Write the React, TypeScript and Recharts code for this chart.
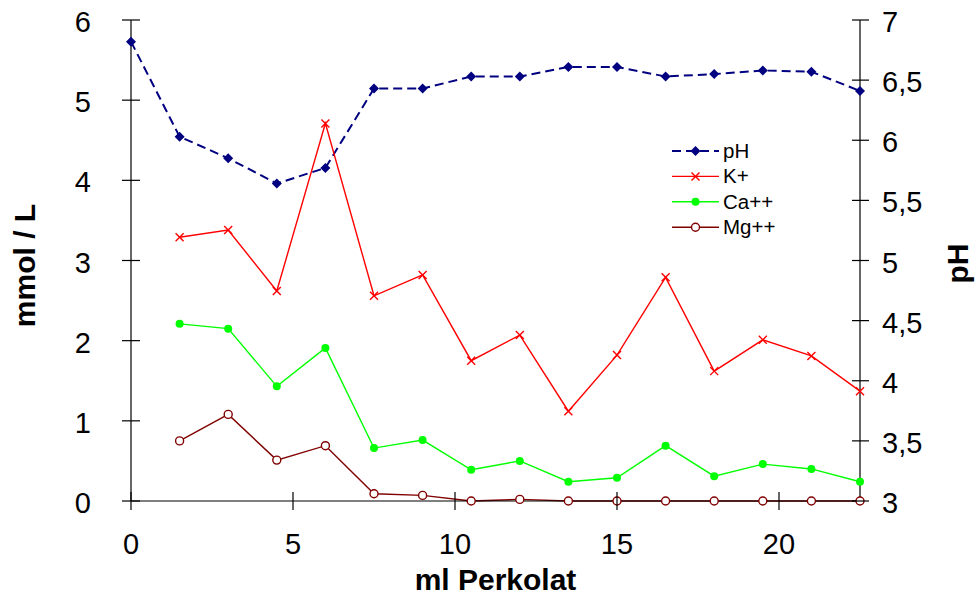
import { LineChart, Line, XAxis, YAxis, Label } from 'recharts'

const xValues = [0, 1.5, 3, 4.5, 6, 7.5, 9, 10.5, 12, 13.5, 15, 16.5, 18, 19.5, 21, 22.5]
const phValues = [6.82, 6.03, 5.85, 5.64, 5.77, 6.43, 6.43, 6.53, 6.53, 6.61, 6.61, 6.53, 6.55, 6.58, 6.57, 6.41]
const kValues = [null, 3.29, 3.38, 2.62, 4.71, 2.56, 2.82, 1.75, 2.07, 1.12, 1.82, 2.79, 1.62, 2.01, 1.81, 1.37]
const caValues = [null, 2.21, 2.15, 1.43, 1.91, 0.66, 0.76, 0.39, 0.5, 0.24, 0.29, 0.69, 0.31, 0.46, 0.4, 0.24]
const mgValues = [null, 0.75, 1.08, 0.51, 0.69, 0.09, 0.07, 0, 0.02, 0, 0, 0, 0, 0, 0, 0]

const xTicks = [0, 5, 10, 15, 20]
const leftTicks = [0, 1, 2, 3, 4, 5, 6]
const rightTicks = [3, 3.5, 4, 4.5, 5, 5.5, 6, 6.5, 7]

const seriesNames = ['pH', 'K+', 'Ca++', 'Mg++']

const NAVY = '#000080'
const RED = '#ff0000'
const GREEN = '#00ff00'
const MAROON = '#800000'
const FONT = '"Liberation Sans", Arial, sans-serif'
const TICK_SIZE = 29
const TITLE_SIZE = 30

const data = xValues.map((x, i) => ({
  x,
  ph: phValues[i],
  k: kValues[i],
  ca: caValues[i],
  mg: mgValues[i],
}))

// marker shapes
const diamond = (cx: number, cy: number, key?: any) => (
  <polygon key={key} points={`${cx},${cy - 5} ${cx + 5},${cy} ${cx},${cy + 5} ${cx - 5},${cy}`} fill={NAVY} />
)
const cross = (cx: number, cy: number, key?: any) => (
  <g key={key}>
    <line x1={cx - 4} y1={cy - 4} x2={cx + 4} y2={cy + 4} stroke={RED} strokeWidth={1.4} />
    <line x1={cx - 4} y1={cy + 4} x2={cx + 4} y2={cy - 4} stroke={RED} strokeWidth={1.4} />
  </g>
)
const dotFilled = (cx: number, cy: number, key?: any) => <circle key={key} cx={cx} cy={cy} r={4} fill={GREEN} />
const dotHollow = (cx: number, cy: number, key?: any) => (
  <circle key={key} cx={cx} cy={cy} r={4} fill="#fff" stroke={MAROON} strokeWidth={1.4} />
)

const makeDot = (draw: (cx: number, cy: number, key?: any) => any) => (props: any) => {
  const { cx, cy, value, index } = props
  if (value == null || cy == null || isNaN(cy)) return <g key={`e-${index}`} />
  return draw(cx, cy, `d-${index}`)
}

const LeftTick = (props: any) => {
  const { x, y, payload } = props
  return (
    <g>
      <line x1={x - 9} x2={x + 9} y1={y} y2={y} stroke="#000" strokeWidth={1.2} />
      <text x={x - 40} y={y + 12} textAnchor="end" fontSize={TICK_SIZE} fill="#000" fontFamily={FONT}>
        {payload.value}
      </text>
    </g>
  )
}

const RightTick = (props: any) => {
  const { x, y, payload } = props
  return (
    <g>
      <line x1={x - 8} x2={x + 9} y1={y} y2={y} stroke="#000" strokeWidth={1.2} />
      <text x={x + 22} y={y + 12} textAnchor="start" fontSize={TICK_SIZE} fill="#000" fontFamily={FONT}>
        {String(payload.value).replace('.', ',')}
      </text>
    </g>
  )
}

const BottomTick = (props: any) => {
  const { x, y, payload } = props
  return (
    <g>
      <line x1={x} x2={x} y1={y - 9} y2={y + 9} stroke="#000" strokeWidth={1.2} />
      <text x={x} y={y + 53} textAnchor="middle" fontSize={TICK_SIZE} fill="#000" fontFamily={FONT}>
        {payload.value}
      </text>
    </g>
  )
}

const legendMarkers = [
  { color: NAVY, dash: '9 5', draw: diamond },
  { color: RED, dash: undefined, draw: cross },
  { color: GREEN, dash: undefined, draw: dotFilled },
  { color: MAROON, dash: undefined, draw: dotHollow },
]

export default function App() {
  return (
    <div style={{ position: 'absolute', left: 0, top: 0, width: 978, height: 596, background: '#fff' }}>
      <LineChart
        width={978}
        height={596}
        data={data}
        margin={{ top: 20, right: 0, bottom: 0, left: 0 }}
        style={{ fontFamily: FONT }}
      >
        <XAxis
          dataKey="x"
          type="number"
          domain={[0, 22.5]}
          ticks={xTicks}
          interval={0}
          height={95}
          tickSize={0}
          tickMargin={0}
          tick={<BottomTick />}
          axisLine={{ stroke: '#000', strokeWidth: 1.2 }}
          tickLine={false}
        >
          <Label
            content={({ viewBox }: any) => (
              <text
                x={viewBox.x + viewBox.width / 2}
                y={viewBox.y + 89}
                textAnchor="middle"
                fontSize={TITLE_SIZE}
                fontWeight="bold"
                fill="#000"
                fontFamily={FONT}
              >
                ml Perkolat
              </text>
            )}
          />
        </XAxis>
        <YAxis
          yAxisId="left"
          domain={[0, 6]}
          ticks={leftTicks}
          interval={0}
          width={131}
          tickSize={0}
          tickMargin={0}
          tick={<LeftTick />}
          axisLine={{ stroke: '#000', strokeWidth: 1.2 }}
          tickLine={false}
        >
          <Label
            content={({ viewBox }: any) => {
              const cx = viewBox.x + 35
              const cy = viewBox.y + viewBox.height / 2 + 5
              return (
                <text
                  x={cx}
                  y={cy}
                  transform={`rotate(-90, ${cx}, ${cy})`}
                  textAnchor="middle"
                  fontSize={TITLE_SIZE}
                  fontWeight="bold"
                  fill="#000"
                  fontFamily={FONT}
                >
                  mmol / L
                </text>
              )
            }}
          />
        </YAxis>
        <YAxis
          yAxisId="right"
          orientation="right"
          domain={[3, 7]}
          ticks={rightTicks}
          interval={0}
          width={118}
          tickSize={0}
          tickMargin={0}
          tick={<RightTick />}
          axisLine={{ stroke: '#000', strokeWidth: 1.2 }}
          tickLine={false}
        >
          <Label
            content={({ viewBox }: any) => {
              const cx = viewBox.x + 108
              const cy = viewBox.y + viewBox.height / 2 + 3
              return (
                <text
                  x={cx}
                  y={cy}
                  transform={`rotate(-90, ${cx}, ${cy})`}
                  textAnchor="middle"
                  fontSize={TITLE_SIZE}
                  fontWeight="bold"
                  fill="#000"
                  fontFamily={FONT}
                >
                  pH
                </text>
              )
            }}
          />
        </YAxis>
        <Line
          yAxisId="right"
          dataKey="ph"
          name="pH"
          stroke={NAVY}
          strokeWidth={2}
          strokeDasharray="9 5"
          dot={makeDot(diamond)}
          activeDot={false}
          isAnimationActive={false}
        />
        <Line
          yAxisId="left"
          dataKey="k"
          name="K+"
          stroke={RED}
          strokeWidth={1.4}
          dot={makeDot(cross)}
          activeDot={false}
          isAnimationActive={false}
        />
        <Line
          yAxisId="left"
          dataKey="ca"
          name="Ca++"
          stroke={GREEN}
          strokeWidth={1.4}
          dot={makeDot(dotFilled)}
          activeDot={false}
          isAnimationActive={false}
        />
        <Line
          yAxisId="left"
          dataKey="mg"
          name="Mg++"
          stroke={MAROON}
          strokeWidth={1.4}
          dot={makeDot(dotHollow)}
          activeDot={false}
          isAnimationActive={false}
        />
      </LineChart>

      {/* Legend */}
      <svg style={{ position: 'absolute', left: 665, top: 135 }} width={130} height={105}>
        {seriesNames.map((name, i) => {
          const y = 16 + i * 25.4
          const m = legendMarkers[i]
          return (
            <g key={name}>
              <line x1={7} x2={54} y1={y} y2={y} stroke={m.color} strokeWidth={m.dash ? 2 : 1.4} strokeDasharray={m.dash} />
              {m.draw(30.5, y)}
              <text x={58} y={y + 7} fontSize={20.5} fill="#000" fontFamily={FONT}>
                {name}
              </text>
            </g>
          )
        })}
      </svg>
    </div>
  )
}
